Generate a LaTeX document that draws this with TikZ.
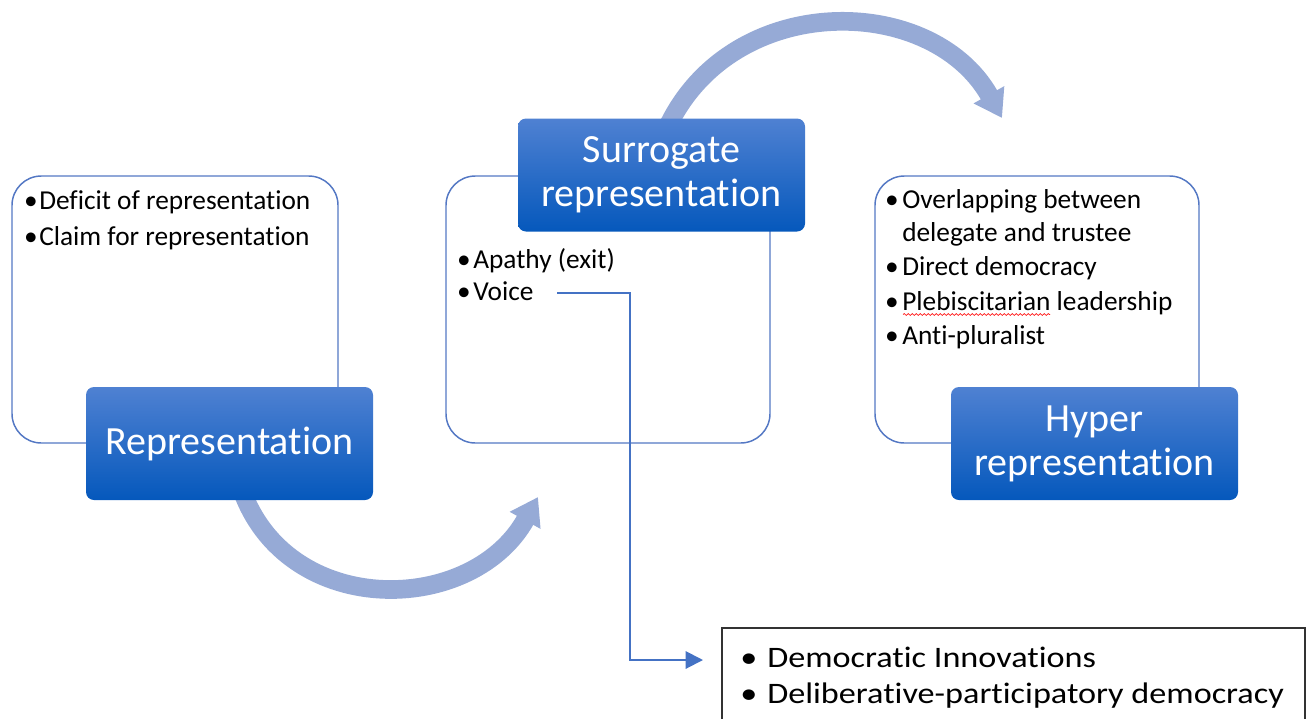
\documentclass[tikz,border=0pt]{standalone}
\usepackage{fontspec}
\setmainfont{Carlito}[Ligatures={NoCommon,NoContextual}]
\newfontfamily\widefont[FakeStretch=1.15,Ligatures={NoCommon,NoContextual}]{Carlito}
\usetikzlibrary{arrows.meta,decorations.pathmorphing}
\definecolor{outl}{RGB}{84,120,196}
\definecolor{btop}{RGB}{79,129,210}
\definecolor{bbot}{RGB}{5,88,188}
\definecolor{arccol}{RGB}{150,170,214}
\definecolor{conncol}{RGB}{68,114,196}
\definecolor{framecol}{RGB}{50,50,50}
\begin{document}
\begin{tikzpicture}[x=0.75pt,y=-0.75pt,
  outlinebox/.style={draw=outl, fill=white, line width=1.1pt, rounded corners=22pt, inner sep=0pt, minimum height=200.25pt},
  bluebox/.style={rounded corners=6pt, top color=btop, bottom color=bbot, text=white,
    font=\fontsize{30pt}{33pt}\selectfont, align=center, inner sep=0pt,
    minimum width=215.25pt, minimum height=84.75pt},
  smalltxt/.style={anchor=base west, inner sep=0pt, font=\fontsize{20.5pt}{24pt}\selectfont},
  smallbul/.style={anchor=base, inner sep=0pt, font=\fontsize{20.5pt}{24pt}\selectfont},
  bottxt/.style={anchor=base west, inner sep=0pt, font=\widefont\fontsize{22.3pt}{27pt}\selectfont},
  botbul/.style={anchor=base, inner sep=0pt, font=\widefont\fontsize{22.3pt}{27pt}\selectfont},
  bigarrow/.style={draw=arccol, line width=14pt, -{Triangle[length=20pt,width=25pt]}},
  connline/.style={draw=conncol, line width=1.5pt, -{Triangle[length=13pt,width=13pt]}},
  framebox/.style={draw=framecol, line width=1.5pt, inner sep=0pt, minimum width=437.25pt, minimum height=93pt}
]
\useasboundingbox (0,0) rectangle (1307,718);

% curved arrows (behind the boxes)
\coordinate (a1s) at (236,470);
\coordinate (a1e) at (538,497);
\coordinate (a2s) at (662,140);
\coordinate (a2e) at (1002,118);
\draw[bigarrow] (a1s) .. controls (270,620) and (470,620) .. (a1e);
\draw[bigarrow] (a2s) .. controls (720,-10) and (930,-10) .. (a2e);

% outline boxes
\node[outlinebox, minimum width=244.5pt] (lbox) at (175,309.5) {};
\node[outlinebox, minimum width=243pt] (mbox) at (608,309.5) {};
\node[outlinebox, minimum width=243pt] (rbox) at (1037,309.5) {};

% blue title boxes
\node[bluebox] (rep) at (229.5,443.5) {Representation};
\node[bluebox] (sur) at (661.5,175) {Surrogate\\representation};
\node[bluebox] (hyp) at (1094.5,443.5) {Hyper\\representation};

% left box text
\node[smallbul] (lb1) at (31,209) {•};
\node[smalltxt] (lt1) at (39,209) {Deficit of representation};
\node[smallbul] (lb2) at (31,245) {•};
\node[smalltxt] (lt2) at (39,245) {Claim for representation};

% middle box text
\node[smallbul] (mb1) at (464,268) {•};
\node[smalltxt] (mt1) at (473,268) {Apathy (exit)};
\node[smallbul] (mb2) at (464,300) {•};
\node[smalltxt] (voice) at (473,300) {Voice};

% right box text
\node[smallbul] (rb1) at (892,208) {•};
\node[smalltxt] (rt1) at (902,208) {Overlapping between};
\node[smalltxt] (rt1b) at (902,241) {delegate and trustee};
\node[smallbul] (rb2) at (892,275) {•};
\node[smalltxt] (rt2) at (902,275) {Direct democracy};
\node[smallbul] (rb3) at (892,310) {•};
\node[smalltxt] (pleb) at (902,310) {Plebiscitarian leadership};
\node[smallbul] (rb4) at (892,344) {•};
\node[smalltxt] (rt4) at (902,344) {Anti-pluralist};
\draw[red, line width=0.5pt, decorate, decoration={snake, amplitude=0.7pt, segment length=3pt}]
  (903,314.5) -- (1050,314.5);

% bottom box
\node[framebox] (dbox) at (1013.5,690) {};
\node[botbul] (db1) at (749,667) {•};
\node[bottxt] (dt1) at (767,667) {Democratic Innovations};
\node[botbul] (db2) at (749,703) {•};
\node[bottxt] (dt2) at (767,703) {Deliberative-participatory democracy};

% connector from Voice to the bottom box
\coordinate (vstart) at (557,293);
\coordinate (vcorner) at (630,660);
\coordinate (vend) at (703,660);
\draw[connline] (vstart) -| (vcorner) -- (vend);
\end{tikzpicture}
\end{document}
